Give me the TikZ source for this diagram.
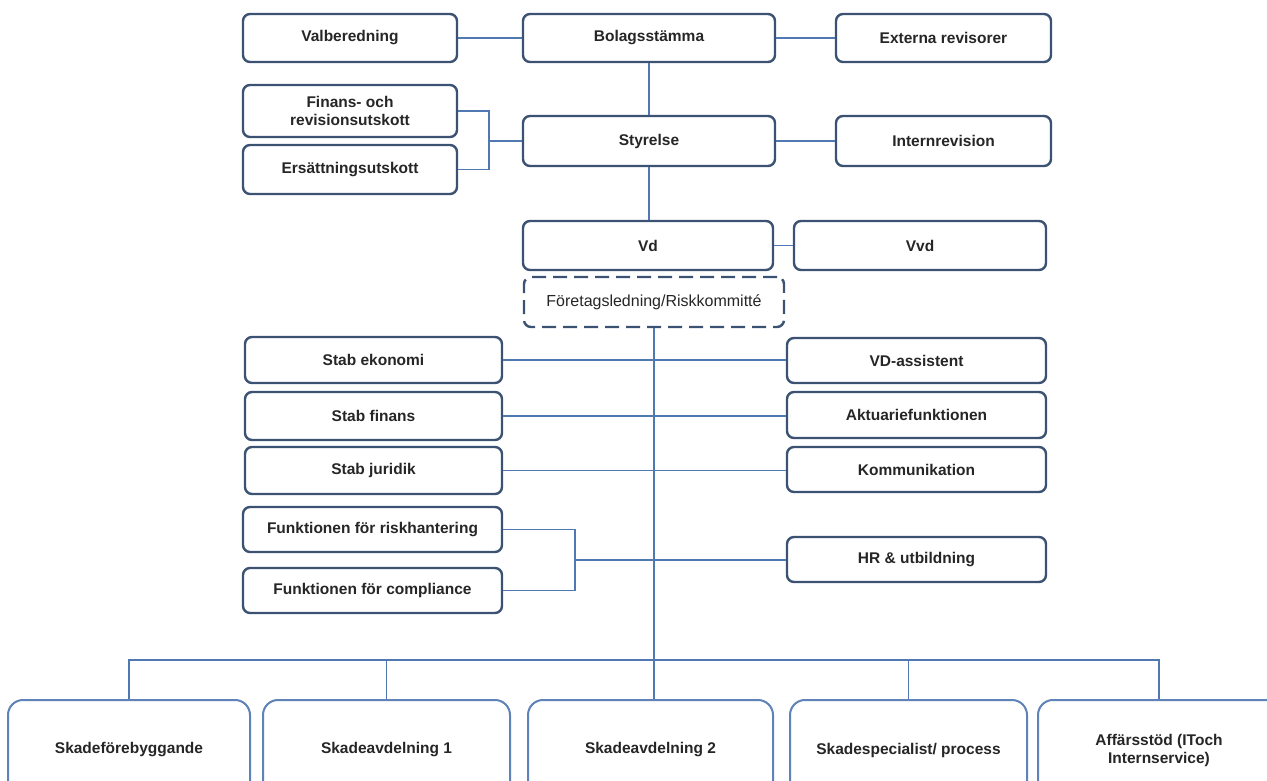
\documentclass[tikz,border=0pt]{standalone}
\usepackage{fontspec}
\setmainfont{Liberation Sans}
\definecolor{boxc}{RGB}{60,82,115}
\definecolor{lowc}{RGB}{95,130,185}
\definecolor{linec}{RGB}{80,120,178}
\begin{document}
\begin{tikzpicture}[x=1pt,y=-1pt,
  box/.style={draw=boxc, line width=2.4pt, rounded corners=7pt, fill=white,
    font=\bfseries\fontsize{15.5}{18}\selectfont, align=center, inner sep=0pt, text=black!85},
  dashbox/.style={box, dash pattern=on 14pt off 7pt, font=\fontsize{16}{18}\selectfont},
  lowbox/.style={box, draw=lowc, line width=2pt, rounded corners=15pt},
  conn/.style={draw=linec, line width=1.2pt}]
\useasboundingbox[fill=white] (0,0) rectangle (1267,780);
% top section
\node[box, minimum width=214pt, minimum height=48pt] (val) at (350,38) {Valberedning};
\node[box, minimum width=252pt, minimum height=48pt] (bol) at (649,38) {Bolagsstämma};
\node[box, minimum width=215pt, minimum height=48pt] (ext) at (943.5,38) {Externa revisorer};
\node[box, minimum width=214pt, minimum height=52pt] (fin) at (350,111) {Finans- och\\revisionsutskott};
\node[box, minimum width=214pt, minimum height=49pt] (ers) at (350,169.5) {Ersättningsutskott};
\node[box, minimum width=252pt, minimum height=50pt] (sty) at (649,141) {Styrelse};
\node[box, minimum width=215pt, minimum height=50pt] (int) at (943.5,141) {Internrevision};
\node[box, minimum width=250pt, minimum height=49pt] (vd) at (648,245.5) {Vd};
\node[box, minimum width=252pt, minimum height=49pt] (vvd) at (920,245.5) {Vvd};
\node[dashbox, minimum width=260pt, minimum height=50pt] (led) at (654,302) {Företagsledning/Riskkommitté};
% middle section
\node[box, minimum width=257pt, minimum height=46pt] (stabek) at (373.5,360) {Stab ekonomi};
\node[box, minimum width=259pt, minimum height=45pt] (vda) at (916.5,360.5) {VD-assistent};
\node[box, minimum width=257pt, minimum height=48pt] (stabfin) at (373.5,416) {Stab finans};
\node[box, minimum width=259pt, minimum height=46pt] (akt) at (916.5,415) {Aktuariefunktionen};
\node[box, minimum width=257pt, minimum height=47pt] (stabjur) at (373.5,470.5) {Stab juridik};
\node[box, minimum width=259pt, minimum height=45pt] (kom) at (916.5,469.5) {Kommunikation};
\node[box, minimum width=259pt, minimum height=45pt] (risk) at (372.5,529.5) {Funktionen för riskhantering};
\node[box, minimum width=259pt, minimum height=45pt] (comp) at (372.5,590.5) {Funktionen för compliance};
\node[box, minimum width=259pt, minimum height=45pt] (hr) at (916.5,559.5) {HR \& utbildning};
% bottom section
\node[lowbox, minimum width=242pt, minimum height=100pt] (skf) at (129,750) {Skadeförebyggande};
\node[lowbox, minimum width=247pt, minimum height=100pt] (sk1) at (386.5,750) {Skadeavdelning 1};
\node[lowbox, minimum width=245pt, minimum height=100pt] (sk2) at (650.5,750) {Skadeavdelning 2};
\node[lowbox, minimum width=237pt, minimum height=100pt] (sksp) at (908.5,750) {Skadespecialist/ process};
\node[lowbox, minimum width=242pt, minimum height=100pt] (aff) at (1159,750) {Affärsstöd (IToch\\Internservice)};
% junction coordinates
\coordinate (j1) at (489,141);
\coordinate (j2) at (575,560);
\coordinate (busc) at (654,660);
% connectors
\draw[conn] (val.east) -- (bol.west);
\draw[conn] (bol.east) -- (ext.west);
\draw[conn] (bol.south) -- (sty.north);
\draw[conn] (sty.east) -- (int.west);
\draw[conn] (sty.south) -- (sty.south |- vd.north);
\draw[conn] (vd.east) -- (vvd.west);
\draw[conn] (fin.east) -| (j1) |- (ers.east);
\draw[conn] (j1) -- (sty.west);
\draw[conn] (stabek.east) -- (stabek.east -| vda.west);
\draw[conn] (stabfin.east) -- (stabfin.east -| akt.west);
\draw[conn] (stabjur.east) -- (stabjur.east -| kom.west);
\draw[conn] (risk.east) -| (j2) |- (comp.east);
\draw[conn] (j2) -- (j2 -| hr.west);
\draw[conn] (led.south) -- (busc);
\draw[conn] (skf.north) |- (busc) -| (aff.north);
\draw[conn] (sk1.north) -- (sk1.north |- busc);
\draw[conn] (busc) -- (busc |- sk2.north);
\draw[conn] (sksp.north) -- (sksp.north |- busc);
\end{tikzpicture}
\end{document}
